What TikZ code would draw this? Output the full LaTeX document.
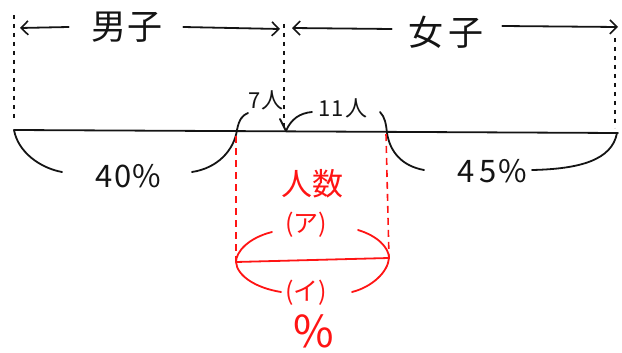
\documentclass[tikz,border=0pt]{standalone}
\usepackage{fontspec}
\setmainfont{Noto Sans CJK JP}
\usetikzlibrary{arrows.meta}
\definecolor{pen}{RGB}{20,20,20}
\definecolor{redpen}{RGB}{255,20,20}
\tikzset{
  ink/.style={draw=pen,line width=1.8pt,line cap=round,line join=round},
  redink/.style={draw=redpen,line width=1.8pt,line cap=round,line join=round},
  dots/.style={draw=pen,line width=1.8pt,dash pattern=on 4pt off 5pt},
  reddash/.style={draw=redpen,line width=1.6pt,dash pattern=on 7pt off 5pt},
  barb/.style={-{Straight Barb[length=7pt,width=14pt,line width=1.6pt]}},
  lbl/.style={inner sep=0pt,text=pen},
  redlbl/.style={inner sep=0pt,text=redpen}
}
\begin{document}
\begin{tikzpicture}[x=1pt,y=-1pt]
\useasboundingbox (0,0) rectangle (622,353);
% named points
\coordinate (L) at (14,130);
\coordinate (R) at (618,133);
\coordinate (Ltop) at (14,15);
\coordinate (Lbot) at (14,118);
\coordinate (Mtop) at (284,24);
\coordinate (Mbot) at (284,128);
\coordinate (Rtop) at (615,38);
\coordinate (Rbot) at (615,128);
\coordinate (aL) at (20,28);
\coordinate (aM1) at (280,29);
\coordinate (aM2) at (292,28);
\coordinate (aR) at (618,27);
% labels
\node[lbl,font=\fontsize{35}{35}\selectfont] (boy) at (127,27) {男\hspace{2pt}子};
\node[lbl,font=\fontsize{35}{35}\selectfont] (girl) at (446,32) {女\hspace{6pt}子};
\node[lbl,font=\fontsize{31}{31}\selectfont] (p40) at (128,176) {4\hspace{2pt}0\hspace{1pt}\%};
\node[lbl,font=\fontsize{31}{31}\selectfont] (p45) at (492,171) {4\hspace{5pt}5\hspace{2pt}\%};
\node[lbl,font=\fontsize{22}{22}\selectfont] (n7) at (266,100) {7人};
\node[lbl,font=\fontsize{22}{22}\selectfont] (n11) at (343,108) {1\hspace{1pt}1\hspace{2pt}人};
\node[redlbl,font=\fontsize{31}{31}\selectfont] (ninzu) at (312,184) {人数};
\node[redlbl,font=\fontsize{25}{25}\selectfont] (pa) at (306,225) {(ア)};
\node[redlbl,font=\fontsize{25}{25}\selectfont] (pi) at (306,293) {(イ)};
\node[redlbl,font=\fontsize{44}{44}\selectfont] (pct) at (314,331) {\%};
% dotted verticals
\draw[dots] (Ltop) -- (Lbot);
\draw[dots] (Mtop) -- (Mbot);
\draw[dots] (Rtop) -- (Rbot);
% top arrows
\draw[ink,barb] (boy.west) ++(-22,0) -- (aL);
\draw[ink,barb] (boy.east) ++(20,0) -- (aM1);
\draw[ink,barb] (girl.west) ++(-16,-3) -- (aM2);
\draw[ink,barb] (girl.east) ++(18,-6) -- (aR);
% main line
\draw[ink] (L) -- (R);
% left brace (40%)
\draw[ink] (L) .. controls (18,152) and (40,168) .. (62,172);
\draw[ink] (192,172) .. controls (218,168) and (234,150) .. (237,130)
  .. controls (239,119) and (243,115) .. (248,113);
% right brace (45%)
\draw[ink] (380,112) .. controls (385,117) and (386,124) .. (387,133)
  .. controls (390,152) and (402,166) .. (424,170);
\draw[ink] (532,170) .. controls (580,169) and (612,160) .. (617,133);
% small brace (7 / 11)
\draw[ink] (280,119) -- (286,131);
\draw[ink] (286,131) .. controls (291,119) and (300,113) .. (312,112);
% red dashed verticals
\coordinate (rl1) at (236,136);
\coordinate (rl2) at (236,262);
\coordinate (rr1) at (386,134);
\coordinate (rr2) at (389,258);
\draw[reddash] (rl1) -- (rl2);
\draw[reddash] (rr1) -- (rr2);
% red line and braces
\draw[redink] (rl2) -- (rr2);
\draw[redink] (272,232) .. controls (248,238) and (236,252) .. (rl2)
  .. controls (237,276) and (256,288) .. (281,292);
\draw[redink] (358,230) .. controls (378,236) and (389,248) .. (rr2)
  .. controls (388,272) and (372,287) .. (352,292);
\end{tikzpicture}
\end{document}
